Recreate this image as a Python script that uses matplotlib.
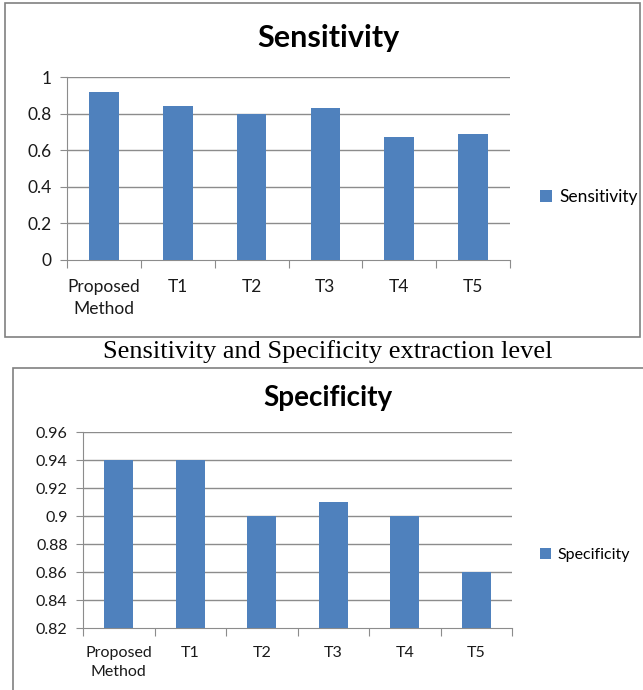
import matplotlib
matplotlib.use("Agg")
import matplotlib.pyplot as plt
from matplotlib.patches import Rectangle
import numpy as np

categories = ["Proposed\nMethod", "T1", "T2", "T3", "T4", "T5"]
sensitivity = [0.92, 0.84, 0.80, 0.83, 0.67, 0.69]
specificity = [0.94, 0.94, 0.90, 0.91, 0.90, 0.86]
sens_ticks = [0, 0.2, 0.4, 0.6, 0.8, 1]
sens_ticklabels = ["0", "0.2", "0.4", "0.6", "0.8", "1"]
spec_ticks = [0.82, 0.84, 0.86, 0.88, 0.90, 0.92, 0.94, 0.96]
spec_ticklabels = ["0.82", "0.84", "0.86", "0.88", "0.9", "0.92", "0.94", "0.96"]

W, H = 643, 690
BAR = "#4F81BD"
GRID = "#8C8C8C"
FONT = ["Lato", "DejaVu Sans"]

fig = plt.figure(figsize=(W / 100, H / 100), dpi=100)
fig.patch.set_facecolor("white")


def fx(px):
    return px / W


def fy(py):
    return 1 - py / H


def box(x0, y0, x1, y1):
    fig.add_artist(Rectangle((fx(x0), fy(y1)), fx(x1) - fx(x0), fy(y0) - fy(y1),
                             transform=fig.transFigure, fill=False,
                             edgecolor="#808080", linewidth=1.2))


def panel(rect, values, ticks, ticklabels, ylim, title, title_y, title_size,
          tick_size, legend_xy, label, xpad, lsp):
    ax = fig.add_axes(rect)
    x = np.arange(len(categories))
    ax.bar(x, [v - ylim[0] for v in values], bottom=ylim[0], width=0.4,
           color=BAR, label=label, zorder=3)
    ax.set_ylim(*ylim)
    ax.set_xlim(-0.5, len(categories) - 0.5)
    ax.set_yticks(ticks)
    ax.set_yticklabels(ticklabels, fontsize=tick_size, family=FONT)
    ax.set_xticks(np.arange(-0.5, len(categories), 1.0))
    ax.set_xticklabels([])
    ax.set_xticks(x, minor=True)
    ax.set_xticklabels(categories, minor=True, fontsize=tick_size, family=FONT,
                       linespacing=lsp)
    ax.tick_params(axis="x", which="minor", length=0, pad=xpad, colors="#1a1a1a")
    ax.tick_params(axis="x", which="major", length=6, color=GRID, direction="out")
    ax.tick_params(axis="y", length=5, color=GRID, pad=6, labelcolor="#1a1a1a")
    for t in ax.get_yticks():
        if t > ylim[0] + 1e-9:
            ax.axhline(t, color=GRID, linewidth=1.0, zorder=1)
    for s in ["top", "right"]:
        ax.spines[s].set_visible(False)
    ax.spines["left"].set_color(GRID)
    ax.spines["bottom"].set_color(GRID)
    fig.text(fx(328), fy(title_y), title, ha="center", va="center",
             fontsize=title_size, fontweight="bold", family=FONT)
    fig.legend(handles=ax.patches[:1], labels=[label], loc="center left",
               bbox_to_anchor=(fx(legend_xy[0]), fy(legend_xy[1])),
               frameon=False, borderpad=0, borderaxespad=0,
               handlelength=0.7, handleheight=0.7,
               handletextpad=0.4, prop={"family": FONT, "size": tick_size})
    return ax


box(5, 3, 640, 337)
box(13, 368, 647, 695)

panel([fx(67), fy(260), fx(510) - fx(67), fy(77) - fy(260)], sensitivity,
      sens_ticks, sens_ticklabels, (0, 1), "Sensitivity", 38, 22, 12.5,
      (540, 197), "Sensitivity", 14, 1.45)

panel([fx(83), fy(628), fx(512) - fx(83), fy(432) - fy(628)], specificity,
      spec_ticks, spec_ticklabels, (0.82, 0.96), "Specificity", 398, 20, 11.5,
      (540, 555), "Specificity", 13, 1.45)

fig.text(fx(328), fy(352), "Sensitivity and Specificity extraction level",
         ha="center", va="center", fontsize=19,
         family=["Liberation Serif", "DejaVu Serif"])

fig.savefig("out.png", dpi=100, facecolor="white")
